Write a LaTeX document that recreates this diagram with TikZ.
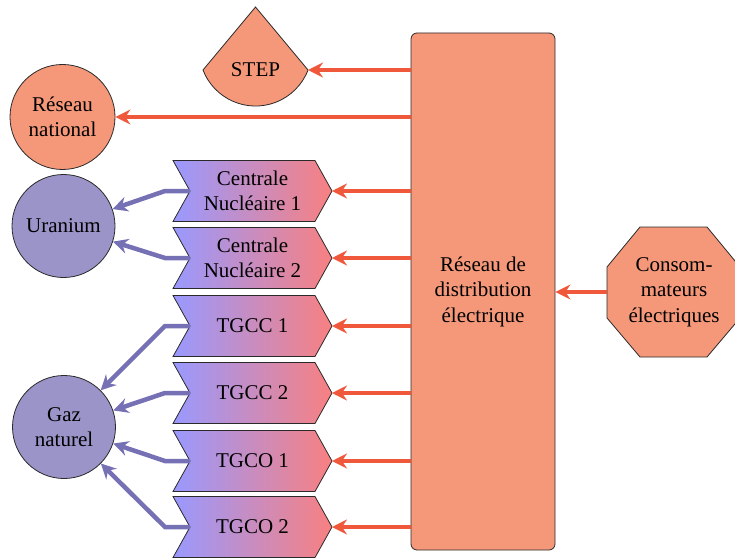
\documentclass[tikz,border=0pt]{standalone}
\usepackage{fontspec}
\setmainfont{Liberation Serif}
\usetikzlibrary{arrows.meta}
\definecolor{salmon}{HTML}{F5987A}
\definecolor{redarrow}{HTML}{F0583C}
\definecolor{purparrow}{HTML}{7670B4}
\definecolor{lavender}{HTML}{9A94C8}
\definecolor{cleft}{HTML}{9999FF}
\definecolor{cright}{HTML}{F88080}
\definecolor{edge}{HTML}{2A2A2A}
\tikzset{
  txt/.style={align=center, font=\fontsize{21}{25.5}\selectfont, inner sep=0pt},
  shapeedge/.style={draw=edge, line width=0.8pt},
  salmonfill/.style={shapeedge, fill=salmon},
  lavfill/.style={shapeedge, fill=lavender},
  redarr/.style={draw=redarrow, line width=4pt, -{Stealth[length=15pt,width=15pt,inset=5pt]}},
  purparr/.style={draw=purparrow, line width=4.5pt, -{Stealth[length=15pt,width=15pt,inset=5pt]}},
  chevfill/.style={shapeedge, left color=cleft, right color=cright},
}
\newcommand\mychev[3]{%
  \path[chevfill] (173,#2+30.5) -- (315,#2+30.5) -- (332,#2) -- (315,#2-30.5) -- (173,#2-30.5) -- (190,#2) -- cycle;
  \node[txt] (#1) at (252.5,#2) {#3};
  \coordinate (#1-w) at (190,#2);
  \coordinate (#1-e) at (332,#2);
}
\begin{document}
\begin{tikzpicture}[x=1pt,y=1pt]
\useasboundingbox (0,0) rectangle (735,558);

% distribution network
\node[salmonfill, rounded corners=6pt, minimum width=144pt, minimum height=517pt, inner sep=0pt, txt] (reseau) at (483,266.5) {Réseau de\\distribution\\électrique};

% STEP
\path[salmonfill] (255.5,551) -- (203,488) arc[start angle=201.1, end angle=338.9, radius=56.3] -- cycle;
\node[txt] (step) at (255.5,488) {STEP};
\coordinate (step-e) at (308,488);

% circles
\node[salmonfill, circle, minimum size=105pt, inner sep=0pt, txt] (nat) at (62.5,441) {Réseau\\national};
\node[lavfill, circle, minimum size=103pt, inner sep=0pt, txt] (ura) at (63.5,332) {Uranium};
\node[lavfill, circle, minimum size=103pt, inner sep=0pt, txt] (gaz) at (64,131) {Gaz\\naturel};

% consumers octagon
\path[salmonfill] (640,331) -- (707,331) -- (740,291) -- (740,240) -- (707,201) -- (640,201) -- (607,240) -- (607,291) -- cycle;
\node[txt] (cons) at (674,266) {Consom-\\mateurs\\électriques};
\coordinate (cons-w) at (607,266);

% plants
\mychev{cn1}{367}{Centrale\\Nucléaire 1}
\mychev{cn2}{300}{Centrale\\Nucléaire 2}
\mychev{tgcc1}{232}{TGCC 1}
\mychev{tgcc2}{165}{TGCC 2}
\mychev{tgco1}{97}{TGCO 1}
\mychev{tgco2}{31}{TGCO 2}

% red arrows
\draw[redarr] (reseau.west |- step-e) -- (step-e);
\draw[redarr] (reseau.west |- nat) -- (nat);
\foreach \n in {cn1,cn2,tgcc1,tgcc2,tgco1,tgco2}
  \draw[redarr] (reseau.west |- \n-e) -- (\n-e);
\draw[redarr] (cons-w) -- (reseau.east |- cons-w);

% purple arrows
\draw[purparr] (cn1-w) -- ++(-25,0) -- (ura);
\draw[purparr] (cn2-w) -- ++(-25,0) -- (ura);
\foreach \n in {tgcc1,tgcc2,tgco1,tgco2}
  \draw[purparr] (\n-w) -- ++(-25,0) -- (gaz);
\end{tikzpicture}
\end{document}
